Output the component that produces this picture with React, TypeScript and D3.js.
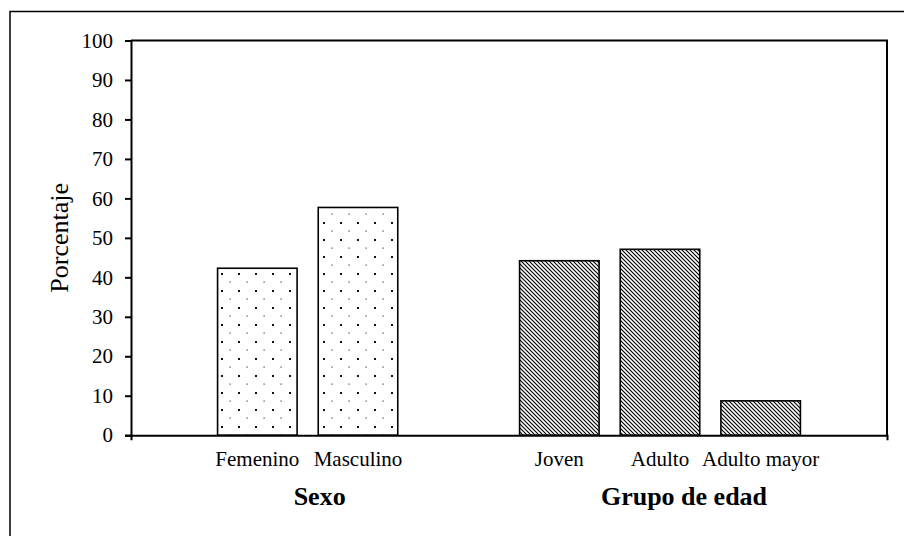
import React, { useEffect, useRef } from 'react';
import * as d3 from 'd3';

const sexoCategories = ['Femenino', 'Masculino'];
const sexoValues = [42.3, 57.7];
const edadCategories = ['Joven', 'Adulto', 'Adulto mayor'];
const edadValues = [44.2, 47.1, 8.7];
const groupLabels = ['Sexo', 'Grupo de edad'];
const yTicks = [0, 10, 20, 30, 40, 50, 60, 70, 80, 90, 100];
const yTitle = 'Porcentaje';

const FONT = '"Liberation Serif", "Times New Roman", serif';

const App = () => {
  const chartRef = useRef<SVGSVGElement>(null);

  useEffect(() => {
    const svg = d3.select(chartRef.current);
    svg.selectAll('*').remove();

    const margin = { top: 40.5, right: 16, bottom: 101, left: 131 };
    const width = 904;
    const height = 536;

    // spacer key keeps the empty slot between the two groups
    const domain = [...sexoCategories, '__gap', ...edadCategories];
    const x = d3
      .scaleBand<string>()
      .domain(domain)
      .range([margin.left, width - margin.right - 1])
      .paddingInner(0.21)
      .paddingOuter(0.86);

    const y = d3
      .scaleLinear()
      .domain([0, 100])
      .range([height - margin.bottom + 0.2, margin.top]);

    const defs = svg.append('defs');

    const dots = defs
      .append('pattern')
      .attr('id', 'dots')
      .attr('patternUnits', 'userSpaceOnUse')
      .attr('width', 17)
      .attr('height', 17);
    dots.append('rect').attr('width', 17).attr('height', 17).attr('fill', 'white');
    dots.append('rect').attr('x', 0).attr('y', 1).attr('width', 2).attr('height', 2).attr('fill', '#111');
    dots.append('rect').attr('x', 8.5).attr('y', 9.5).attr('width', 1.2).attr('height', 1.2).attr('fill', '#444');

    const hatch = defs
      .append('pattern')
      .attr('id', 'hatch')
      .attr('patternUnits', 'userSpaceOnUse')
      .attr('width', 4)
      .attr('height', 4);
    hatch.append('rect').attr('width', 4).attr('height', 4).attr('fill', 'white');
    hatch
      .append('path')
      .attr('d', 'M-1,-1L5,5M-1,3L1,5M3,-1L5,1')
      .attr('stroke', '#000')
      .attr('stroke-width', 1.15);

    // outer frame (runs past the right and bottom edges)
    svg
      .append('rect')
      .attr('x', 10)
      .attr('y', 11.5)
      .attr('width', 1200)
      .attr('height', 1200)
      .attr('fill', 'none')
      .attr('stroke', '#000')
      .attr('stroke-width', 1.5);

    const bars = [
      ...sexoCategories.map((c, i) => ({ cat: c, value: sexoValues[i], fill: 'url(#dots)' })),
      ...edadCategories.map((c, i) => ({ cat: c, value: edadValues[i], fill: 'url(#hatch)' })),
    ];

    svg
      .selectAll('rect.bar')
      .data(bars)
      .enter()
      .append('rect')
      .attr('class', 'bar')
      .attr('x', (d) => x(d.cat)!)
      .attr('y', (d) => y(d.value))
      .attr('width', x.bandwidth())
      .attr('height', (d) => y(0) - y(d.value))
      .attr('fill', (d) => d.fill)
      .attr('stroke', '#000')
      .attr('stroke-width', 1.6);

    const [x0, x1] = x.range();

    // top and right edges of the plot area
    svg
      .append('path')
      .attr('d', `M${x0},${y(100)}H${x1}V${y(0)}`)
      .attr('fill', 'none')
      .attr('stroke', '#000')
      .attr('stroke-width', 2);

    const yAxis = svg
      .append('g')
      .attr('transform', `translate(${x0},0)`)
      .call(d3.axisLeft(y).tickValues(yTicks).tickSize(6).tickPadding(12));
    yAxis.select('.domain').attr('stroke-width', 2);
    yAxis.selectAll('.tick line').attr('stroke-width', 2);
    yAxis.selectAll('text').attr('font-family', FONT).attr('font-size', 21).attr('fill', '#000');

    const xAxis = svg
      .append('g')
      .attr('transform', `translate(0,${y(0)})`)
      .call(
        d3
          .axisBottom(x)
          .tickValues([...sexoCategories, ...edadCategories])
          .tickSizeInner(0)
          .tickSizeOuter(5)
          .tickPadding(16)
      );
    xAxis.select('.domain').attr('stroke-width', 2);
    xAxis.selectAll('text').attr('font-family', FONT).attr('font-size', 21).attr('fill', '#000');

    // group titles under the category labels
    const sexoMid = (x(sexoCategories[0])! + x(sexoCategories[1])! + x.bandwidth()) / 2;
    const edadMid = x('Adulto')! + x.bandwidth() / 2;
    const groupX = [sexoMid + 12, edadMid + 24];
    svg
      .selectAll('text.group')
      .data(groupLabels)
      .enter()
      .append('text')
      .attr('class', 'group')
      .attr('x', (d, i) => groupX[i])
      .attr('y', 505)
      .attr('text-anchor', 'middle')
      .attr('font-family', FONT)
      .attr('font-weight', 'bold')
      .attr('font-size', 26)
      .text((d) => d);

    svg
      .append('text')
      .attr('transform', `translate(68,${(y(0) + y(100)) / 2}) rotate(-90)`)
      .attr('text-anchor', 'middle')
      .attr('font-family', FONT)
      .attr('font-size', 26)
      .text(yTitle);
  }, []);

  return (
    <svg
      ref={chartRef}
      width={904}
      height={536}
      style={{ position: 'absolute', left: 0, top: 0, background: '#fff' }}
    ></svg>
  );
};

export default App;
